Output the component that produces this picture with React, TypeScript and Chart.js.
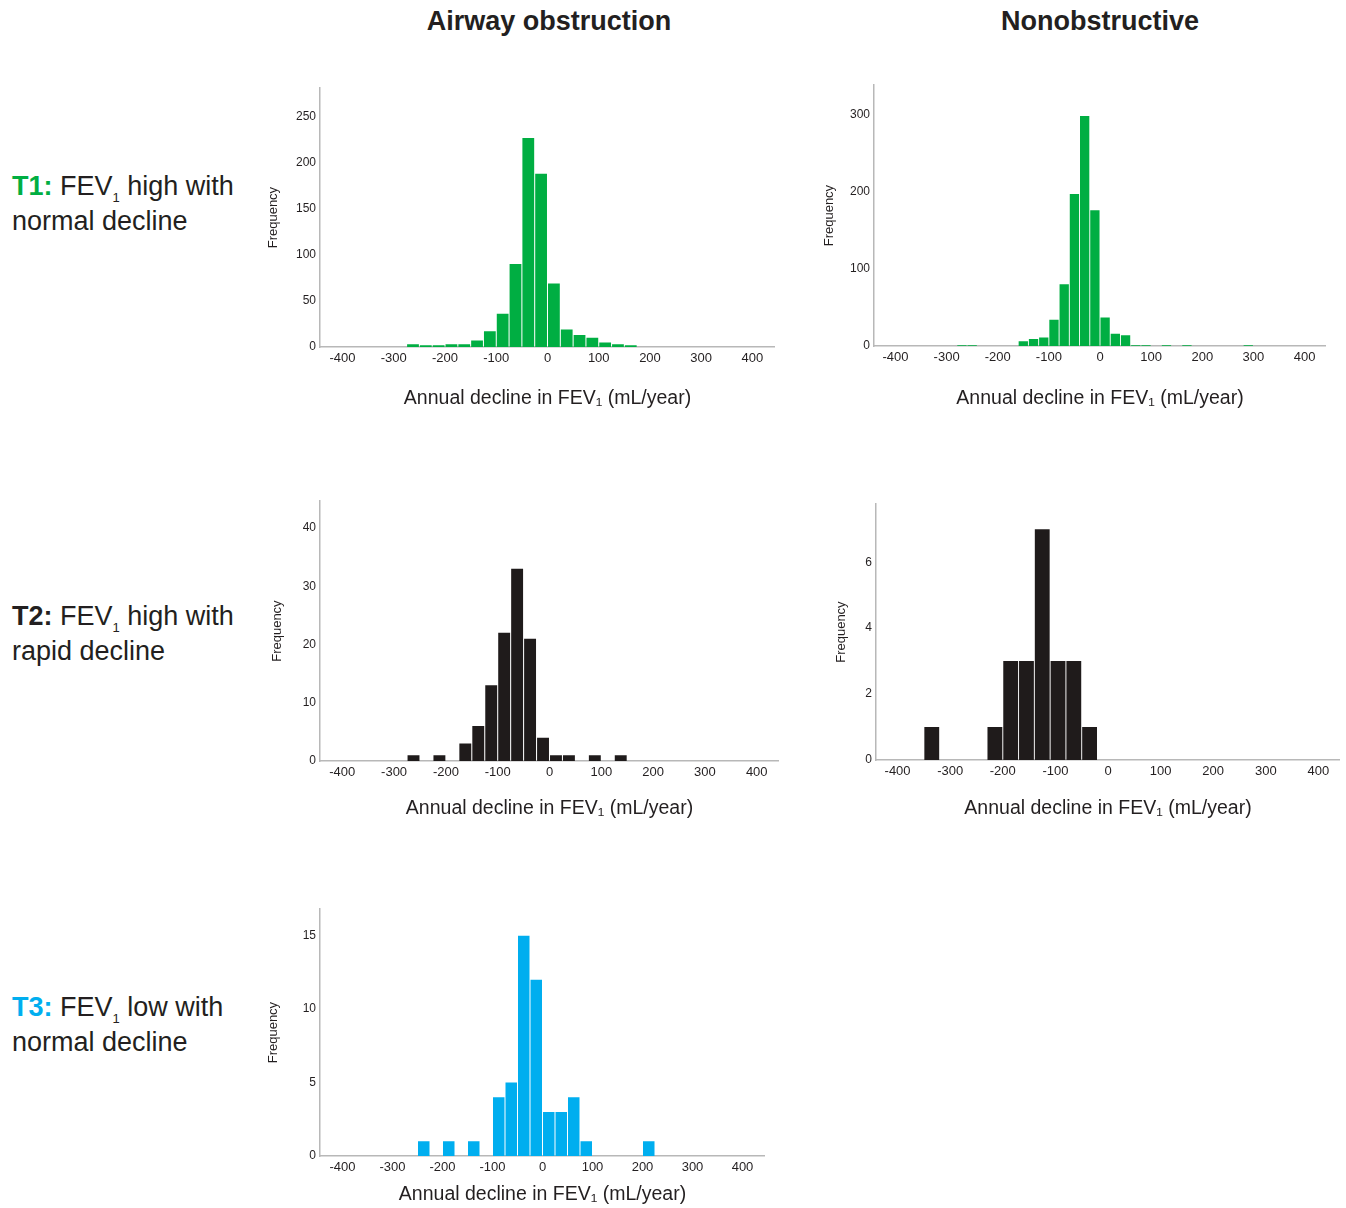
import React, { useEffect, useRef } from "react";
import { Chart, registerables } from "chart.js";

Chart.register(...registerables);

// ---------- shared text / ticks ----------
const FONT = "'Liberation Sans', Arial, Helvetica, sans-serif";
const TEXT = "#231f20";
const GREEN = "#00ae42";
const BLACK = "#1f1b1b";
const BLUE = "#00aeef";
const AXIS = "#b8b8b8";

const xTickValues = [-400, -300, -200, -100, 0, 100, 200, 300, 400];
const xAxisTitle = "Annual decline in FEV\u2081 (mL/year)";
const yAxisTitle = "Frequency";
const columnTitles = ["Airway obstruction", "Nonobstructive"];

// ---------- T1 / Airway obstruction ----------
const t1AoFirstBin = -275;
const t1AoBinWidth = 25;
const t1AoCounts = [3, 2, 2, 3, 3, 7, 17, 36, 90, 227, 188, 69, 19, 13, 10, 5, 3, 2];
const t1AoYTicks = [0, 50, 100, 150, 200, 250];
const t1AoYMax = 281;

// ---------- T1 / Nonobstructive ----------
const t1NoFirstBin = -280;
const t1NoBinWidth = 20;
const t1NoCounts = [1, 1, 0, 0, 0, 0, 6, 9, 11, 34, 80, 197, 298, 176, 37, 16, 14, 1, 1, 0, 1, 0, 1, 0, 0, 0, 0, 0, 1];
const t1NoYTicks = [0, 100, 200, 300];
const t1NoYMax = 338;

// ---------- T2 / Airway obstruction ----------
const t2AoFirstBin = -275;
const t2AoBinWidth = 25;
const t2AoCounts = [1, 0, 1, 0, 3, 6, 13, 22, 33, 21, 4, 1, 1, 0, 1, 0, 1];
const t2AoYTicks = [0, 10, 20, 30, 40];
const t2AoYMax = 44.6;

// ---------- T2 / Nonobstructive ----------
const t2NoFirstBin = -350;
const t2NoBinWidth = 30;
const t2NoCounts = [1, 0, 0, 0, 1, 3, 3, 7, 3, 3, 1];
const t2NoYTicks = [0, 2, 4, 6];
const t2NoYMax = 7.76;

// ---------- T3 / Airway obstruction ----------
const t3AoFirstBin = -250;
const t3AoBinWidth = 25;
const t3AoCounts = [1, 0, 1, 0, 1, 0, 4, 5, 15, 12, 3, 3, 4, 1, 0, 0, 0, 0, 1];
const t3AoYTicks = [0, 5, 10, 15];
const t3AoYMax = 16.8;

type HistProps = {
  firstBin: number;
  binWidth: number;
  counts: number[];
  yTicks: number[];
  yMax: number;
  xMin: number;
  xMax: number;
  color: string;
  left: number;
  top: number;
  width: number;
  height: number;
  yAxisW: number;
  xAxisH: number;
  barPct: number;
};

function Histogram(p: HistProps) {
  const ref = useRef<HTMLCanvasElement | null>(null);
  useEffect(() => {
    if (!ref.current) return;
    const points = p.counts.map((c, i) => ({ x: p.firstBin + p.binWidth * (i + 0.5), y: c }));
    const chart = new Chart(ref.current, {
      type: "bar",
      data: {
        datasets: [
          {
            data: points as any,
            backgroundColor: p.color,
            borderWidth: 0,
            barPercentage: p.barPct,
            categoryPercentage: 1,
          },
        ],
      },
      options: {
        responsive: false,
        maintainAspectRatio: false,
        animation: false,
        layout: { padding: 0 },
        plugins: { legend: { display: false }, tooltip: { enabled: false } },
        scales: {
          x: {
            type: "linear",
            min: p.xMin,
            max: p.xMax,
            offset: false,
            grid: { display: false, drawTicks: false },
            border: { color: AXIS, width: 1.5 },
            afterBuildTicks: (s: any) => {
              s.ticks = xTickValues.map((v) => ({ value: v }));
            },
            afterFit: (s: any) => {
              s.height = p.xAxisH;
            },
            ticks: {
              padding: 4,
              autoSkip: false,
              maxRotation: 0,
              color: TEXT,
              font: { family: FONT, size: 13 },
              callback: (v: any) => String(v),
            },
            title: {
              display: true,
              text: xAxisTitle,
              color: TEXT,
              font: { family: FONT, size: 19.5 },
              padding: 0,
            },
          },
          y: {
            type: "linear",
            min: 0,
            max: p.yMax,
            grid: { display: false, drawTicks: false },
            border: { color: AXIS, width: 1.5 },
            afterBuildTicks: (s: any) => {
              s.ticks = p.yTicks.map((v) => ({ value: v }));
            },
            afterFit: (s: any) => {
              s.width = p.yAxisW;
            },
            ticks: {
              padding: 4,
              color: TEXT,
              font: { family: FONT, size: 12 },
              callback: (v: any) => String(v),
            },
            title: {
              display: true,
              text: yAxisTitle,
              color: TEXT,
              font: { family: FONT, size: 13 },
              padding: 0,
            },
          },
        },
      } as any,
    });
    return () => chart.destroy();
  }, []);
  return (
    <canvas
      ref={ref}
      width={p.width}
      height={p.height}
      style={{ position: "absolute", left: p.left, top: p.top, width: p.width, height: p.height }}
    />
  );
}

function RowLabel({ tag, tagColor, rest, line2, top }: { tag: string; tagColor: string; rest: string; line2: string; top: number }) {
  return (
    <div
      style={{
        position: "absolute",
        left: 12,
        top,
        fontFamily: FONT,
        fontSize: 27,
        lineHeight: "35px",
        color: TEXT,
        whiteSpace: "nowrap",
      }}
    >
      <span style={{ fontWeight: "bold", color: tagColor }}>{tag}</span> FEV
      <span style={{ fontSize: 13, verticalAlign: "-7px", lineHeight: 0 }}>1</span> {rest}
      <br />
      {line2}
    </div>
  );
}

export default function App() {
  const titleStyle = (cx: number): React.CSSProperties => ({
    position: "absolute",
    left: cx - 200,
    width: 400,
    top: 6,
    textAlign: "center",
    fontFamily: FONT,
    fontWeight: "bold",
    fontSize: 27,
    lineHeight: "30px",
    color: TEXT,
  });
  return (
    <div style={{ position: "absolute", left: 0, top: 0, width: 1346, height: 1208, background: "#fff" }}>
      <div style={titleStyle(549)}>{columnTitles[0]}</div>
      <div style={titleStyle(1100)}>{columnTitles[1]}</div>

      <RowLabel tag="T1:" tagColor={GREEN} rest="high with" line2="normal decline" top={169} />
      <RowLabel tag="T2:" tagColor={TEXT} rest="high with" line2="rapid decline" top={599} />
      <RowLabel tag="T3:" tagColor={BLUE} rest="low with" line2="normal decline" top={990} />

      <Histogram
        firstBin={t1AoFirstBin} binWidth={t1AoBinWidth} counts={t1AoCounts}
        yTicks={t1AoYTicks} yMax={t1AoYMax} xMin={-444} xMax={444} color={GREEN}
        left={266} top={77} width={509} height={333} yAxisW={54} xAxisH={63} barPct={0.92}
      />
      <Histogram
        firstBin={t1NoFirstBin} binWidth={t1NoBinWidth} counts={t1NoCounts}
        yTicks={t1NoYTicks} yMax={t1NoYMax} xMin={-442} xMax={442} color={GREEN}
        left={822} top={74} width={504} height={336} yAxisW={52} xAxisH={64} barPct={0.91}
      />
      <Histogram
        firstBin={t2AoFirstBin} binWidth={t2AoBinWidth} counts={t2AoCounts}
        yTicks={t2AoYTicks} yMax={t2AoYMax} xMin={-443} xMax={443} color={BLACK}
        left={270} top={490} width={509} height={330} yAxisW={50} xAxisH={59} barPct={0.92}
      />
      <Histogram
        firstBin={t2NoFirstBin} binWidth={t2NoBinWidth} counts={t2NoCounts}
        yTicks={t2NoYTicks} yMax={t2NoYMax} xMin={-441} xMax={441} color={BLACK}
        left={834} top={493} width={506} height={327} yAxisW={42} xAxisH={60} barPct={0.94}
      />
      <Histogram
        firstBin={t3AoFirstBin} binWidth={t3AoBinWidth} counts={t3AoCounts}
        yTicks={t3AoYTicks} yMax={t3AoYMax} xMin={-445} xMax={445} color={BLUE}
        left={266} top={898} width={499} height={308} yAxisW={54} xAxisH={50} barPct={0.92}
      />
    </div>
  );
}
